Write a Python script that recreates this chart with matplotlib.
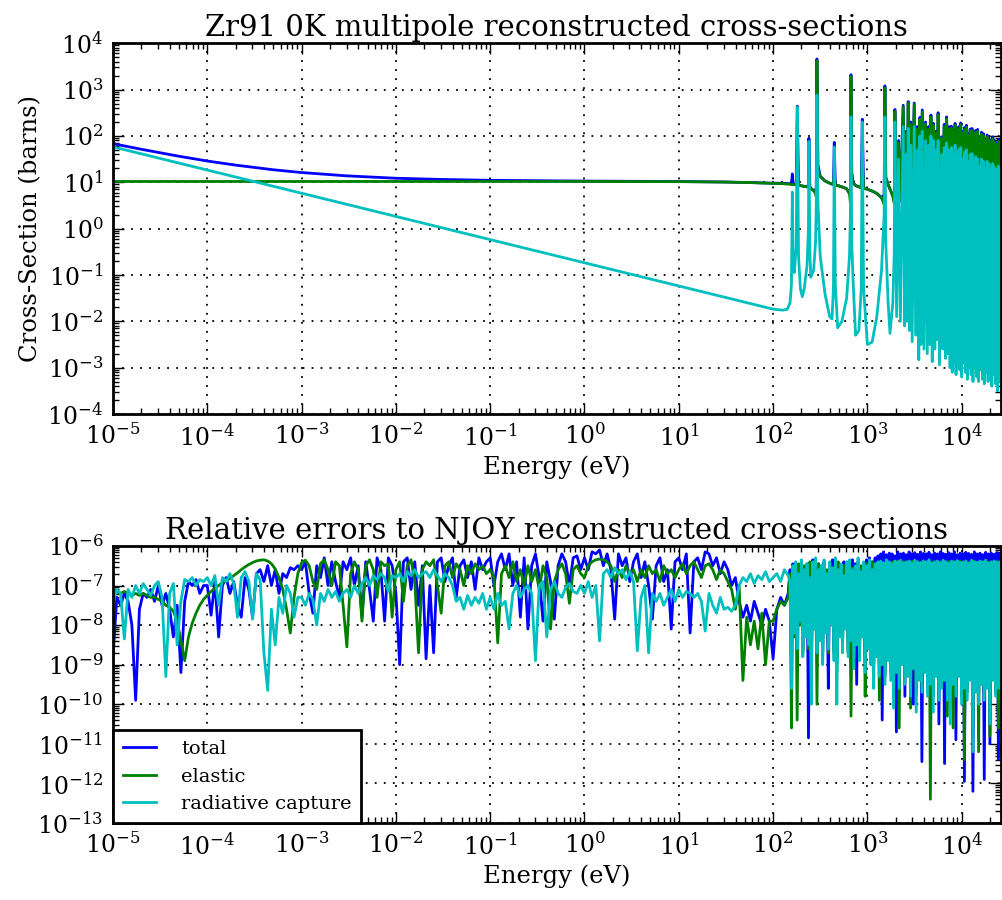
import numpy as np
import matplotlib
matplotlib.use('Agg')
import matplotlib.pyplot as plt
from matplotlib.ticker import LogLocator, NullFormatter

plt.rcParams['font.family'] = 'DejaVu Serif'
plt.rcParams['mathtext.fontset'] = 'dejavuserif'

# ---- reconstructed cross-sections, smooth part below the first resonance (barns)
e_low = [1e-5, 2e-5, 5e-5, 1e-4, 2e-4, 5e-4, 1e-3, 3e-3, 1e-2, 3e-2, 1e-1, 1.0, 10.0, 30.0, 60.0, 100.0]
tot_low = [68.0, 51.4, 36.4, 28.7, 23.4, 18.6, 16.2, 13.75, 12.2, 11.5, 11.0, 10.6, 10.36, 10.13, 9.82, 9.52]
el_low = [10.4, 10.4, 10.4, 10.4, 10.4, 10.4, 10.4, 10.4, 10.4, 10.4, 10.4, 10.4, 10.3, 10.1, 9.8, 9.5]
cap_low = [58.0, 41.0, 26.0, 18.3, 13.0, 8.2, 5.8, 3.35, 1.83, 1.06, 0.58, 0.183, 0.058, 0.0335, 0.0237, 0.0183]

# ---- resolved resonances, log10(E) and log10(sigma)
res_loge = [2.100, 2.150, 2.180, 2.195, 2.204, 2.212, 2.225, 2.245, 2.257, 2.270,
            2.290, 2.310, 2.330, 2.360, 2.375, 2.380, 2.390, 2.400, 2.430, 2.450,
            2.458, 2.465, 2.475, 2.500, 2.550, 2.600, 2.625, 2.640, 2.649, 2.660,
            2.685, 2.730, 2.780, 2.810, 2.820, 2.826, 2.834, 2.850, 2.875, 2.910,
            2.935, 2.946, 2.960, 3.000, 3.050, 3.100, 3.150, 3.178, 3.186, 3.195,
            3.220, 3.240, 3.270, 3.285, 3.292,
            3.310, 3.330, 3.350, 3.380, 3.395, 3.410, 3.420, 3.433, 3.445, 3.460,
            3.475, 3.497, 3.512, 3.530, 3.545, 3.557, 3.568, 3.582, 3.600, 3.617,
            3.635, 3.650, 3.662, 3.674, 3.688, 3.700, 3.715, 3.730, 3.740, 3.750,
            3.765, 3.787, 3.800, 3.815, 3.828, 3.840, 3.852, 3.865, 3.877]
res_cap = [-1.76, -1.74, -1.60, -1.20, 0.79, -0.70, -0.95, -0.40, 2.62, -0.60,
           -1.30, -1.47, -1.30, -0.80, 0.00, 1.88, -0.50, -1.05, -0.90, -0.30,
           0.50, 2.88, 0.60, -0.60, -1.40, -1.90, -1.95, -1.30, 1.76, -1.20,
           -2.14, -2.00, -1.50, -0.60, 0.30, 2.41, -0.30, -1.20, -2.30, -2.20,
           -1.30, 2.30, -1.30, -2.50, -2.45, -1.90, -0.90, 0.30, 2.41, -0.30,
           -1.60, -2.26, -1.60, -0.50, 2.30,
           -1.90, 1.50, -2.00, 2.20, -2.10, 1.60, -2.00, 2.16, -2.20, 1.80,
           -2.44, 2.20, -2.30, 1.70, -2.83, 2.00, -2.50, 2.10, -2.60, 1.90,
           -2.70, 1.80, -2.50, 2.00, -2.87, 1.90, -2.60, 1.70, -2.40, 1.90,
           -2.94, 1.60, -2.60, 1.75, -2.80, 1.85, -2.70, 1.70, -3.00]
res_el = [0.97, 0.96, 0.96, 0.95, 0.95, 0.95, 0.95, 0.94, 1.60, 0.94,
          0.93, 0.92, 0.91, 0.90, 0.89, 1.10, 0.88, 0.87, 0.82, 0.76,
          0.68, 3.62, 1.30, 1.12, 1.03, 0.98, 0.96, 0.95, 1.20, 0.94,
          0.93, 0.90, 0.86, 0.75, 0.55, 3.28, 1.20, 0.98, 0.93, 0.90,
          0.88, 1.50, 0.87, 0.85, 0.81, 0.76, 0.66, 0.53, 3.04, 1.10,
          0.95, 0.85, 0.70, 0.55, 2.53,
          0.45, 1.85, 0.60, 2.63, 0.75, 2.05, 0.70, 2.71, 0.80, 2.25,
          0.85, 2.68, 0.90, 2.15, 1.00, 2.36, 1.00, 2.52, 1.10, 2.26,
          1.10, 2.15, 1.20, 2.41, 1.20, 2.23, 1.25, 2.05, 1.30, 2.46,
          1.30, 1.95, 1.25, 2.20, 1.30, 2.37, 1.30, 2.15, 1.25]
res_tot = [0.98, 0.97, 0.97, 0.96, 1.18, 0.96, 0.96, 0.96, 2.64, 0.95,
           0.93, 0.92, 0.91, 0.91, 0.94, 1.95, 0.90, 0.87, 0.82, 0.78,
           0.90, 3.66, 1.38, 1.13, 1.03, 0.98, 0.96, 0.95, 1.86, 0.94,
           0.93, 0.90, 0.86, 0.76, 0.74, 3.32, 1.21, 0.98, 0.93, 0.90,
           0.88, 2.36, 0.87, 0.85, 0.81, 0.76, 0.67, 0.73, 3.08, 1.11,
           0.95, 0.85, 0.70, 0.60, 2.57,
           0.46, 1.90, 0.60, 2.66, 0.75, 2.10, 0.70, 2.74, 0.80, 2.30,
           0.85, 2.71, 0.90, 2.20, 1.00, 2.40, 1.00, 2.56, 1.10, 2.30,
           1.10, 2.20, 1.20, 2.45, 1.20, 2.27, 1.25, 2.10, 1.30, 2.50,
           1.30, 1.98, 1.25, 2.25, 1.30, 2.41, 1.30, 2.20, 1.25]

# ---- dense band above 8 keV: peaks and troughs, log10 values
band_peak_loge = [3.89, 3.91, 3.93, 3.95, 3.97, 3.99, 4.01, 4.03, 4.05, 4.07, 4.09, 4.11, 4.13, 4.15,
                  4.17, 4.19, 4.21, 4.23, 4.25, 4.27, 4.29, 4.31, 4.33, 4.35, 4.37, 4.39, 4.41]
band_peak_tot = [2.21, 2.12, 2.27, 2.05, 2.20, 2.28, 2.10, 2.18, 2.23, 2.05, 2.15, 2.16, 2.00, 2.12,
                 2.14, 1.98, 2.08, 2.05, 1.92, 2.02, 1.95, 1.88, 1.98, 1.90, 1.85, 1.92, 1.87]
band_peak_el = [2.17, 2.08, 2.23, 2.01, 2.16, 2.24, 2.06, 2.14, 2.19, 2.01, 2.11, 2.12, 1.96, 2.08,
                2.10, 1.94, 2.04, 2.01, 1.88, 1.98, 1.91, 1.84, 1.94, 1.86, 1.81, 1.88, 1.83]
band_peak_cap = [1.75, 1.60, 1.80, 1.55, 1.70, 1.75, 1.50, 1.65, 1.70, 1.45, 1.60, 1.62, 1.40, 1.55,
                 1.50, 1.35, 1.50, 1.45, 1.30, 1.45, 1.40, 1.30, 1.40, 1.32, 1.28, 1.35, 1.30]
band_min_loge = [3.90, 3.92, 3.94, 3.96, 3.98, 4.00, 4.02, 4.04, 4.06, 4.08, 4.10, 4.12, 4.14, 4.16,
                 4.18, 4.20, 4.22, 4.24, 4.26, 4.28, 4.30, 4.32, 4.34, 4.36, 4.38, 4.40, 4.42]
band_min_el = [1.25, 1.30, 1.20, 1.28, 1.15, 1.30, 1.22, 1.27, 1.30, 1.18, 1.25, 1.20, 1.28, 1.22,
               1.15, 1.25, 1.20, 1.18, 1.22, 1.15, 1.20, 1.12, 1.18, 1.10, 1.15, 1.12, 1.10]
band_min_cap = [-3.10, -2.90, -3.15, -2.95, -3.05, -3.20, -2.90, -3.10, -3.25, -3.00, -3.15, -3.30, -3.00, -3.20,
                -3.30, -3.05, -3.25, -3.35, -3.10, -3.30, -3.20, -3.40, -3.15, -3.35, -3.50, -3.30, -3.55]

# ---- relative errors vs NJOY, log10, sampled every 0.04 decade from 1e-5 eV
err_tot = [-8.8, -7.3, -7.5, -7.2, -7.4, -8.0, -9.9, -7.6, -7.2, -7.3, -7.1, -7.4, -7.0, -7.5, -7.2, -7.6, -8.3, -7.5, -9.2, -7.4, -6.9, -7.0, -6.85, -7.2, -7.0,
           -7.0, -7.75, -6.9, -8.3, -7.0, -6.8, -7.2, -6.9, -7.5, -7.8, -6.8, -7.1, -7.8, -6.7, -6.6, -6.9, -6.5, -7.0, -6.6, -7.2, -6.7, -6.8, -6.55, -6.6, -6.5,
           -6.6, -6.4, -7.2, -7.7, -6.5, -6.8, -6.3, -7.0, -6.4, -6.9, -7.3, -6.4, -6.6, -6.3, -7.0, -6.5, -7.8, -6.4, -7.1, -7.9, -6.3, -6.6, -7.9, -6.3, -6.5,
           -7.2, -9.0, -6.4, -6.3, -7.1, -6.4, -7.5, -6.5, -8.85, -7.0, -8.7, -6.4, -6.3, -6.9, -6.5, -6.3, -7.3, -6.5, -6.35, -6.8, -6.4, -7.1, -6.3, -6.6, -6.4,
           -6.3, -7.0, -6.4, -6.2, -6.6, -6.2, -7.0, -6.4, -7.8, -6.3, -8.1, -6.5, -6.2, -6.8, -7.9, -6.4, -6.9, -7.85, -6.5, -6.2, -6.4, -7.0, -6.3, -6.25, -6.6,
           -6.3, -6.6, -6.15, -6.2, -6.1, -6.5, -6.2, -6.6, -7.85, -6.2, -6.5, -6.3, -6.9, -6.4, -6.2, -6.8, -6.4, -7.0, -7.85, -6.5, -6.3, -6.9, -6.6, -8.1, -6.4,
           -6.3, -6.6, -6.2, -8.2, -6.4, -6.3, -6.6, -6.15, -6.2, -6.5, -6.3, -6.7, -6.4, -6.6, -7.0, -6.8, -7.4, -7.8, -7.5, -7.9, -7.4, -7.7, -8.0, -7.6, -7.9,
           -8.85, -7.6, -7.3, -7.5, -7.2]
err_el = [-7.2, -7.15, -7.2, -7.15, -7.2, -7.25, -7.2, -7.25, -7.2, -7.25, -7.3, -7.3, -7.35, -7.4, -7.5, -7.55, -7.65, -7.9, -8.4, -8.9, -8.3, -7.95, -7.7, -7.5, -7.35,
          -7.25, -7.15, -7.07, -7.0, -6.93, -6.87, -6.82, -6.75, -6.68, -6.6, -6.53, -6.47, -6.42, -6.38, -6.36, -6.35, -6.38, -6.45, -6.58, -6.8, -7.1, -7.6, -8.2, -7.3, -6.7,
          -6.42, -6.36, -6.5, -6.9, -7.1, -6.45, -6.35, -6.6, -7.0, -6.4, -6.5, -7.5, -8.55, -6.7, -6.4, -6.6, -7.9, -6.5, -6.35, -6.6, -7.3, -6.4, -6.5, -6.45, -7.8,
          -6.6, -6.4, -7.4, -6.5, -6.35, -6.9, -8.7, -6.6, -6.4, -6.5, -6.35, -7.0, -7.7, -6.5, -6.4, -6.8, -6.45, -6.6, -7.0, -6.5, -6.7, -6.45, -6.6, -6.5, -6.7,
          -6.6, -6.8, -8.45, -6.7, -6.5, -6.8, -6.4, -6.9, -6.6, -7.0, -6.5, -6.9, -6.6, -7.1, -6.5, -6.8, -8.1, -6.9, -6.6, -6.45, -6.7, -7.45, -6.6, -6.5, -6.7,
          -6.8, -6.5, -6.4, -6.35, -6.33, -6.35, -6.4, -6.5, -6.9, -6.6, -6.8, -6.5, -6.7, -6.6, -6.9, -6.6, -6.8, -6.5, -6.7, -6.6, -6.9, -6.5, -6.7, -6.6, -6.8,
          -6.6, -6.45, -6.7, -6.5, -6.4, -6.6, -6.8, -6.5, -6.45, -6.6, -6.85, -6.6, -6.7, -6.9, -7.1, -7.6, -7.0, -9.4, -7.8, -8.5, -7.9, -8.6, -7.7, -9.0, -7.9,
          -7.9, -7.6, -7.4, -7.5, -7.3]
err_cap = [-7.4, -7.1, -7.2, -8.35, -7.1, -7.3, -7.0, -7.2, -6.95, -7.1, -7.25, -7.0, -6.9, -7.3, -9.3, -7.2, -6.95, -8.5, -7.4, -6.85, -6.9, -6.8, -7.0, -6.85, -6.9,
           -6.8, -7.0, -6.75, -7.5, -6.8, -6.9, -6.7, -6.95, -7.8, -6.8, -6.65, -6.9, -7.85, -6.7, -6.85, -8.7, -9.65, -7.6, -8.5, -7.3, -7.7, -7.0, -7.2, -7.8, -7.3,
           -7.3, -7.5, -7.2, -7.35, -8.0, -7.2, -7.4, -7.1, -7.3, -7.15, -7.4, -7.2, -7.1, -7.3, -7.0, -7.2, -6.95, -6.8, -7.0, -6.75, -6.85, -6.7, -6.8, -7.15, -6.75,
           -6.8, -6.7, -6.9, -6.65, -6.75, -6.6, -6.8, -6.7, -6.65, -6.8, -6.6, -6.75, -6.9, -6.7, -6.8, -7.0, -7.4, -7.3, -7.6, -7.25, -7.5, -7.3, -7.45, -7.2, -7.6,
           -7.3, -7.6, -7.2, -7.5, -7.4, -8.1, -7.2, -7.0, -7.3, -7.1, -7.0, -7.2, -8.9, -7.0, -6.9, -8.3, -7.1, -6.9, -7.2, -7.3, -7.05, -6.95, -7.15, -7.2, -7.0,
           -7.2, -6.9, -7.3, -7.0, -8.4, -6.7, -6.6, -6.8, -6.55, -6.7, -6.6, -6.85, -6.65, -6.9, -8.65, -7.3, -7.0, -8.7, -7.2, -7.4, -7.2, -7.5, -7.3, -7.1, -7.4,
           -7.1, -7.3, -7.15, -7.2, -7.3, -7.2, -7.4, -8.15, -7.2, -7.5, -7.7, -7.3, -7.6, -7.55, -7.65, -7.5, -7.0, -6.8, -6.9, -6.7, -6.95, -6.75, -6.85, -6.65, -6.9,
           -6.8, -6.7, -6.9, -6.6, -6.75]

# resonance region of the error plot: alternating highs and lows, log10
band_err_tot_hi = [-6.6, -6.45, -6.8, -6.5, -6.4, -6.7, -6.45, -6.55, -6.35, -6.6, -6.45, -6.5, -6.4, -6.7, -6.45, -6.35,
                   -6.55, -6.45, -6.6, -6.4, -6.5, -6.55, -6.35, -6.45, -6.4, -6.6, -6.45, -6.35, -6.3, -6.4, -6.3,
                   -6.25, -6.2, -6.15, -6.22, -6.18, -6.2, -6.25, -6.15, -6.2, -6.18, -6.22, -6.15, -6.2, -6.17, -6.21,
                   -6.15, -6.19, -6.2, -6.16, -6.22, -6.18, -6.2, -6.15, -6.19, -6.21, -6.17, -6.2, -6.15, -6.22, -6.18,
                   -6.2, -6.16, -6.19, -6.21, -6.15, -6.2, -6.18, -6.22, -6.16, -6.2, -6.18, -6.21, -6.17, -6.2]
band_err_tot_lo = [-8.5, -8.0, -8.4, -7.8, -8.6, -8.1, -10.85, -9.0, -8.0, -8.5, -8.2, -8.7, -8.0, -9.6, -7.9, -8.6,
                   -9.0, -8.1, -8.5, -8.0, -8.6, -8.2, -8.8, -9.5, -8.7, -8.1, -8.9, -8.4, -8.8, -9.0, -8.6,
                   -9.0, -10.4, -9.2, -8.7, -9.1, -9.6, -10.7, -9.3, -8.8, -9.8, -9.0, -9.5, -10.0, -9.6, -9.1,
                   -11.45, -9.0, -9.5, -9.2, -9.8, -9.0, -10.5, -9.3, -11.5, -9.6, -10.0, -9.2, -10.9, -9.1, -9.7,
                   -11.95, -9.6, -9.2, -12.2, -9.4, -9.8, -9.3, -11.9, -9.4, -11.0, -9.2, -9.6, -11.4, -9.7]
band_err_el_hi = [-6.7, -6.5, -6.6, -6.45, -6.8, -6.5, -6.6, -6.4, -6.7, -6.55, -6.45, -6.65, -6.5, -6.6, -6.45, -6.7,
                  -6.5, -6.4, -6.6, -6.5, -6.7, -6.45, -6.55, -6.6, -6.45, -6.5, -6.65, -6.45, -6.5, -6.4, -6.45,
                  -6.42, -6.4, -6.45, -6.38, -6.42, -6.4, -6.44, -6.38, -6.42, -6.4, -6.45, -6.4, -6.38, -6.43, -6.4,
                  -6.42, -6.38, -6.44, -6.4, -6.42, -6.4, -6.38, -6.43, -6.4, -6.42, -6.39, -6.44, -6.4, -6.41, -6.38,
                  -6.43, -6.4, -6.42, -6.4, -6.38, -6.44, -6.4, -6.42, -6.39, -6.41, -6.4, -6.43, -6.38, -6.42]
band_err_el_lo = [-10.6, -8.3, -10.4, -8.0, -8.7, -8.2, -8.6, -9.2, -8.1, -10.0, -8.3, -8.8, -8.1, -8.7, -8.0, -8.7,
                  -9.2, -8.2, -8.6, -8.0, -8.7, -10.3, -8.9, -8.4, -8.8, -8.2, -9.8, -8.5, -8.9, -9.0, -8.7,
                  -9.9, -9.0, -9.3, -8.8, -9.2, -9.7, -9.1, -10.6, -8.9, -9.3, -9.1, -10.1, -9.0, -9.8, -9.2,
                  -9.5, -9.0, -9.6, -12.4, -9.7, -9.1, -9.6, -9.4, -9.3, -10.3, -9.8, -10.6, -9.6, -9.2, -9.8,
                  -11.4, -9.7, -9.3, -10.4, -9.5, -11.2, -9.4, -9.8, -9.5, -10.8, -9.3, -9.7, -10.6, -9.8]
band_err_cap_hi = [-6.9, -6.5, -6.4, -6.7, -6.35, -6.6, -6.45, -6.8, -6.4, -6.3, -6.6, -6.5, -6.35, -6.7, -6.4, -6.55,
                   -6.3, -6.6, -6.45, -6.75, -6.4, -6.35, -6.6, -6.5, -6.3, -6.65, -6.4, -6.5, -6.35, -6.6, -6.45,
                   -6.4, -6.38, -6.42, -6.35, -6.4, -6.45, -6.38, -6.4, -6.36, -6.42, -6.4, -6.38, -6.44, -6.36, -6.4,
                   -6.42, -6.38, -6.4, -6.35, -6.43, -6.4, -6.38, -6.41, -6.36, -6.4, -6.44, -6.38, -6.4, -6.37, -6.42,
                   -6.4, -6.38, -6.43, -6.36, -6.4, -6.41, -6.38, -6.4, -6.36, -6.42, -6.4, -6.38, -6.41, -6.4]
band_err_cap_lo = [-9.6, -8.2, -8.6, -7.9, -8.8, -8.3, -8.5, -10.0, -8.1, -8.7, -8.4, -9.0, -8.2, -8.6, -8.0, -8.9,
                   -10.0, -8.3, -8.7, -8.1, -8.8, -8.4, -9.1, -8.5, -8.9, -8.3, -9.2, -8.6, -9.0, -9.6, -8.8,
                   -9.3, -9.0, -9.5, -8.9, -9.4, -10.1, -9.2, -9.6, -9.0, -9.5, -9.3, -9.8, -9.1, -10.2, -9.4,
                   -9.7, -9.2, -9.8, -9.5, -10.2, -9.3, -9.9, -9.6, -9.4, -9.9, -10.5, -9.5, -9.8, -9.3, -10.0,
                   -9.6, -9.9, -9.4, -11.2, -9.7, -10.0, -9.5, -9.9, -9.6, -10.5, -9.4, -9.8, -9.6, -9.9]


def interleave(hi, lo):
    n = min(len(hi), len(lo))
    out = np.empty(2 * n)
    out[0::2] = hi[:n]
    out[1::2] = lo[:n]
    return out


# assemble the top curves
band_loge = interleave(band_peak_loge, band_min_loge)
e_top = np.concatenate([e_low, 10.0 ** np.array(res_loge), 10.0 ** band_loge])
total = np.concatenate([tot_low, 10.0 ** np.array(res_tot), 10.0 ** interleave(band_peak_tot, band_min_el)])
elastic = np.concatenate([el_low, 10.0 ** np.array(res_el), 10.0 ** interleave(band_peak_el, band_min_el)])
capture = np.concatenate([cap_low, 10.0 ** np.array(res_cap), 10.0 ** interleave(band_peak_cap, band_min_cap)])


def err_curve(smooth, hi, lo):
    band = interleave(hi, lo)
    e = np.concatenate([np.logspace(-5, 2.16, len(smooth)), np.logspace(2.18, 4.42, len(band))])
    return e, 10.0 ** np.concatenate([smooth, band])


e_et, r_tot = err_curve(err_tot, band_err_tot_hi, band_err_tot_lo)
e_ee, r_el = err_curve(err_el, band_err_el_hi, band_err_el_lo)
e_ec, r_cap = err_curve(err_cap, band_err_cap_hi, band_err_cap_lo)

blue = (0, 0, 1)
green = (0, 0.5, 0)
cyan = (0, 0.75, 0.75)
lw = 2.0

fig = plt.figure(figsize=(10.02, 9), dpi=100)
ax1 = fig.add_axes([0.1128, 0.54, 0.886, 0.412])
ax2 = fig.add_axes([0.1128, 0.0856, 0.886, 0.3078])

ax1.loglog(e_top, total, color=blue, lw=lw, label='total')
ax1.loglog(e_top, elastic, color=green, lw=lw, label='elastic')
ax1.loglog(e_top, capture, color=cyan, lw=lw, label='radiative capture')
ax1.set_ylim(1e-4, 1e4)
ax1.set_title('Zr91 0K multipole reconstructed cross-sections', fontsize=21, pad=5)
ax1.set_ylabel('Cross-Section (barns)', fontsize=17.5)

ax2.loglog(e_et, r_tot, color=blue, lw=lw, label='total')
ax2.loglog(e_ee, r_el, color=green, lw=lw, label='elastic')
ax2.loglog(e_ec, r_cap, color=cyan, lw=lw, label='radiative capture')
ax2.set_ylim(1e-13, 1e-6)
ax2.set_title('Relative errors to NJOY reconstructed cross-sections', fontsize=21, pad=5)

leg = ax2.legend(loc='lower left', fancybox=False, edgecolor='k', framealpha=1, fontsize=14,
                 borderaxespad=0, handlelength=1.7, handletextpad=1.3, labelspacing=0.5,
                 borderpad=0.5)
leg.get_frame().set_linewidth(2)

for ax in (ax1, ax2):
    ax.set_xlim(1e-5, 2.6e4)
    ax.set_xlabel('Energy (eV)', fontsize=17.5)
    for axis in (ax.xaxis, ax.yaxis):
        axis.set_major_locator(LogLocator(base=10, numticks=40))
        axis.set_minor_locator(LogLocator(base=10, subs=np.arange(2, 10) * 1.0, numticks=40))
        axis.set_minor_formatter(NullFormatter())
    ax.tick_params(which='both', direction='in', top=True, right=True, labelsize=17, pad=7)
    ax.tick_params(which='major', length=8, width=1)
    ax.tick_params(which='minor', length=4, width=1)
    for sp in ax.spines.values():
        sp.set_linewidth(2)
    ax.grid(True, which='major', color='k', linestyle=(0, (1, 4)), linewidth=1.3)

fig.savefig('out.png', dpi=100)
